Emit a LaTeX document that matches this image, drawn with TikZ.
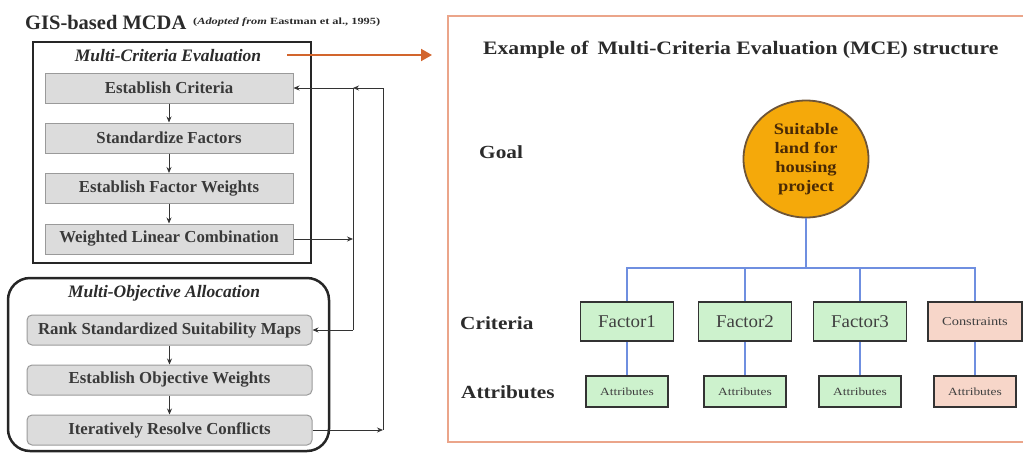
\documentclass[tikz,border=0pt]{standalone}
\usepackage{fontspec}
\setmainfont{Liberation Serif}
\usetikzlibrary{arrows.meta,shapes.geometric}
\definecolor{boxgray}{HTML}{DCDCDC}
\definecolor{boxline}{HTML}{9A9A9A}
\definecolor{txtgray}{HTML}{3A3A3A}
\definecolor{orgarrow}{HTML}{D2652D}
\definecolor{panelline}{HTML}{EBA58A}
\definecolor{bluel}{HTML}{6F8FE0}
\definecolor{greenf}{HTML}{CDF2CD}
\definecolor{pinkf}{HTML}{F7D6C9}
\definecolor{goalf}{HTML}{F5A90A}
\definecolor{goalt}{HTML}{4A2A05}
\definecolor{headtxt}{HTML}{2B2B2B}
\newcommand{\xwide}[2]{\scalebox{#1}[1]{#2}}
\tikzset{
  stepbox/.style={draw=boxline, fill=boxgray, line width=1pt, minimum height=30pt,
    text=txtgray, font=\fontsize{16.8}{18}\selectfont\bfseries, inner sep=0pt},
  mcestep/.style={stepbox, minimum width=248pt},
  moastep/.style={stepbox, minimum width=285pt, rounded corners=5pt},
  frameA/.style={draw=black!85, line width=2.5pt, inner sep=0pt},
  arr/.style={-{Stealth[length=6pt,width=5pt]}, line width=0.8pt, draw=black!80},
  plain/.style={line width=0.8pt, draw=black!80},
  bus/.style={draw=bluel, line width=1.8pt},
  crit/.style={draw=black!80, line width=1.6pt, minimum height=39pt, inner sep=0pt,
    font=\fontsize{18}{20}\selectfont, text=black!75},
  attr/.style={draw=black!80, line width=1.6pt, minimum width=82pt, minimum height=31pt,
    inner sep=0pt, font=\fontsize{11}{13}\selectfont, text=black!75},
  lvl/.style={font=\fontsize{18.5}{20}\selectfont\bfseries, text=headtxt, anchor=west, inner sep=0pt}
}
\begin{document}
\begin{tikzpicture}[x=1pt,y=-1pt]
\clip (0,0) rectangle (1023,453);
\useasboundingbox (0,0) rectangle (1023,453);
% header
\node[anchor=west, inner sep=0pt, font=\fontsize{20.5}{22}\selectfont\bfseries, text=headtxt] (ttl) at (25,22) {GIS-based MCDA};
\node[anchor=west, inner sep=0pt, font=\fontsize{9.5}{11}\selectfont\bfseries, text=headtxt] (src) at (193,22) {\xwide{1.3}{(\textit{Adopted from} Eastman et al., 1995)}};
% MCE frame
\node[frameA, minimum width=278pt, minimum height=221pt] (mce) at (172,152.5) {};
\node[inner sep=0pt, font=\fontsize{17.5}{19}\selectfont\bfseries\itshape, text=headtxt] (mcet) at (168,56) {Multi-Criteria Evaluation};
\node[mcestep] (ec) at (169,88) {Establish Criteria};
\node[mcestep] (sf) at (169,138) {Standardize Factors};
\node[mcestep] (efw) at (169,188.5) {Establish Factor Weights};
\node[mcestep] (wlc) at (169,239) {Weighted Linear Combination};
% MOA frame
\node[frameA, rounded corners=22pt, minimum width=321pt, minimum height=173pt] (moa) at (168.5,364.5) {};
\node[inner sep=0pt, font=\fontsize{17.5}{19}\selectfont\bfseries\itshape, text=headtxt] (moat) at (164,293) {Multi-Objective Allocation};
\node[moastep] (rank) at (169.5,330) {Rank Standardized Suitability Maps};
\node[moastep] (eow) at (169.5,380) {Establish Objective Weights};
\node[moastep] (irc) at (169.5,430) {Iteratively Resolve Conflicts};
% step arrows
\draw[arr] (ec) -- (sf);
\draw[arr] (sf) -- (efw);
\draw[arr] (efw) -- (wlc);
\draw[arr] (rank) -- (eow);
\draw[arr] (eow) -- (irc);
% feedback loops
\coordinate (o1) at (383,88);
\coordinate (i1) at (353,88);
\coordinate (i2) at (353,239);
\coordinate (i3) at (353,330);
\coordinate (o2) at (383,430);
\draw[arr] (irc.east) -- (o2);
\draw[plain] (o2) -- (o1);
\draw[arr] (o1) -- (i1);
\draw[arr] (i1) -- (ec.east);
\draw[arr] (wlc.east) -- (i2);
\draw[plain] (i1) -- (i3);
\draw[arr] (i3) -- (rank.east);
% orange arrow
\coordinate (oa1) at (287,55);
\coordinate (oa2) at (432,55);
\draw[draw=orgarrow, line width=2pt, -{Triangle[length=11pt,width=12pt]}] (oa1) -- (oa2);
% right panel
\node[draw=panelline, line width=2.5pt, minimum width=580pt, minimum height=426pt, inner sep=0pt] (panel) at (738,229) {};
\node[inner sep=0pt, anchor=west, font=\fontsize{19}{21}\selectfont\bfseries, text=headtxt] (ptitle) at (483,50) {\xwide{1.14}{Example of\, Multi-Criteria Evaluation (MCE) structure}};
\node[lvl] (lgoal) at (479,152) {\xwide{1.15}{Goal}};
\node[lvl] (lcrit) at (460,323) {\xwide{1.15}{Criteria}};
\node[lvl] (lattr) at (461,392) {\xwide{1.15}{Attributes}};
% goal
\node[ellipse, draw=goalt!80, line width=1.8pt, fill=goalf, minimum width=125pt, minimum height=117pt, inner sep=0pt,
  font=\fontsize{16}{19}\selectfont\bfseries, text=goalt, align=center] (goal) at (806,159) {\xwide{1.15}{Suitable}\\\xwide{1.15}{land for}\\\xwide{1.15}{housing}\\\xwide{1.15}{project}};
% criteria
\node[crit, fill=greenf, minimum width=93pt] (f1) at (627,321.5) {\xwide{1.05}{Factor1}};
\node[crit, fill=greenf, minimum width=93pt] (f2) at (745,321.5) {\xwide{1.05}{Factor2}};
\node[crit, fill=greenf, minimum width=93pt] (f3) at (860,321.5) {\xwide{1.05}{Factor3}};
\node[crit, fill=pinkf, minimum width=94pt, font=\fontsize{12}{14}\selectfont] (c4) at (975,321.5) {\xwide{1.2}{Constraints}};
% attributes
\node[attr, fill=greenf] (a1) at (627,391.5) {\xwide{1.22}{Attributes}};
\node[attr, fill=greenf] (a2) at (745,391.5) {\xwide{1.22}{Attributes}};
\node[attr, fill=greenf] (a3) at (860,391.5) {\xwide{1.22}{Attributes}};
\node[attr, fill=pinkf] (a4) at (975,391.5) {\xwide{1.22}{Attributes}};
% tree lines
\coordinate (bj) at (806,268);
\draw[bus] (goal.south) -- (bj);
\draw[bus] (f1.north) |- (bj);
\draw[bus] (f2.north) |- (bj);
\draw[bus] (f3.north) |- (bj);
\draw[bus] (c4.north) |- (bj);
\draw[bus] (f1) -- (a1);
\draw[bus] (f2) -- (a2);
\draw[bus] (f3) -- (a3);
\draw[bus] (c4) -- (a4);
\end{tikzpicture}
\end{document}
